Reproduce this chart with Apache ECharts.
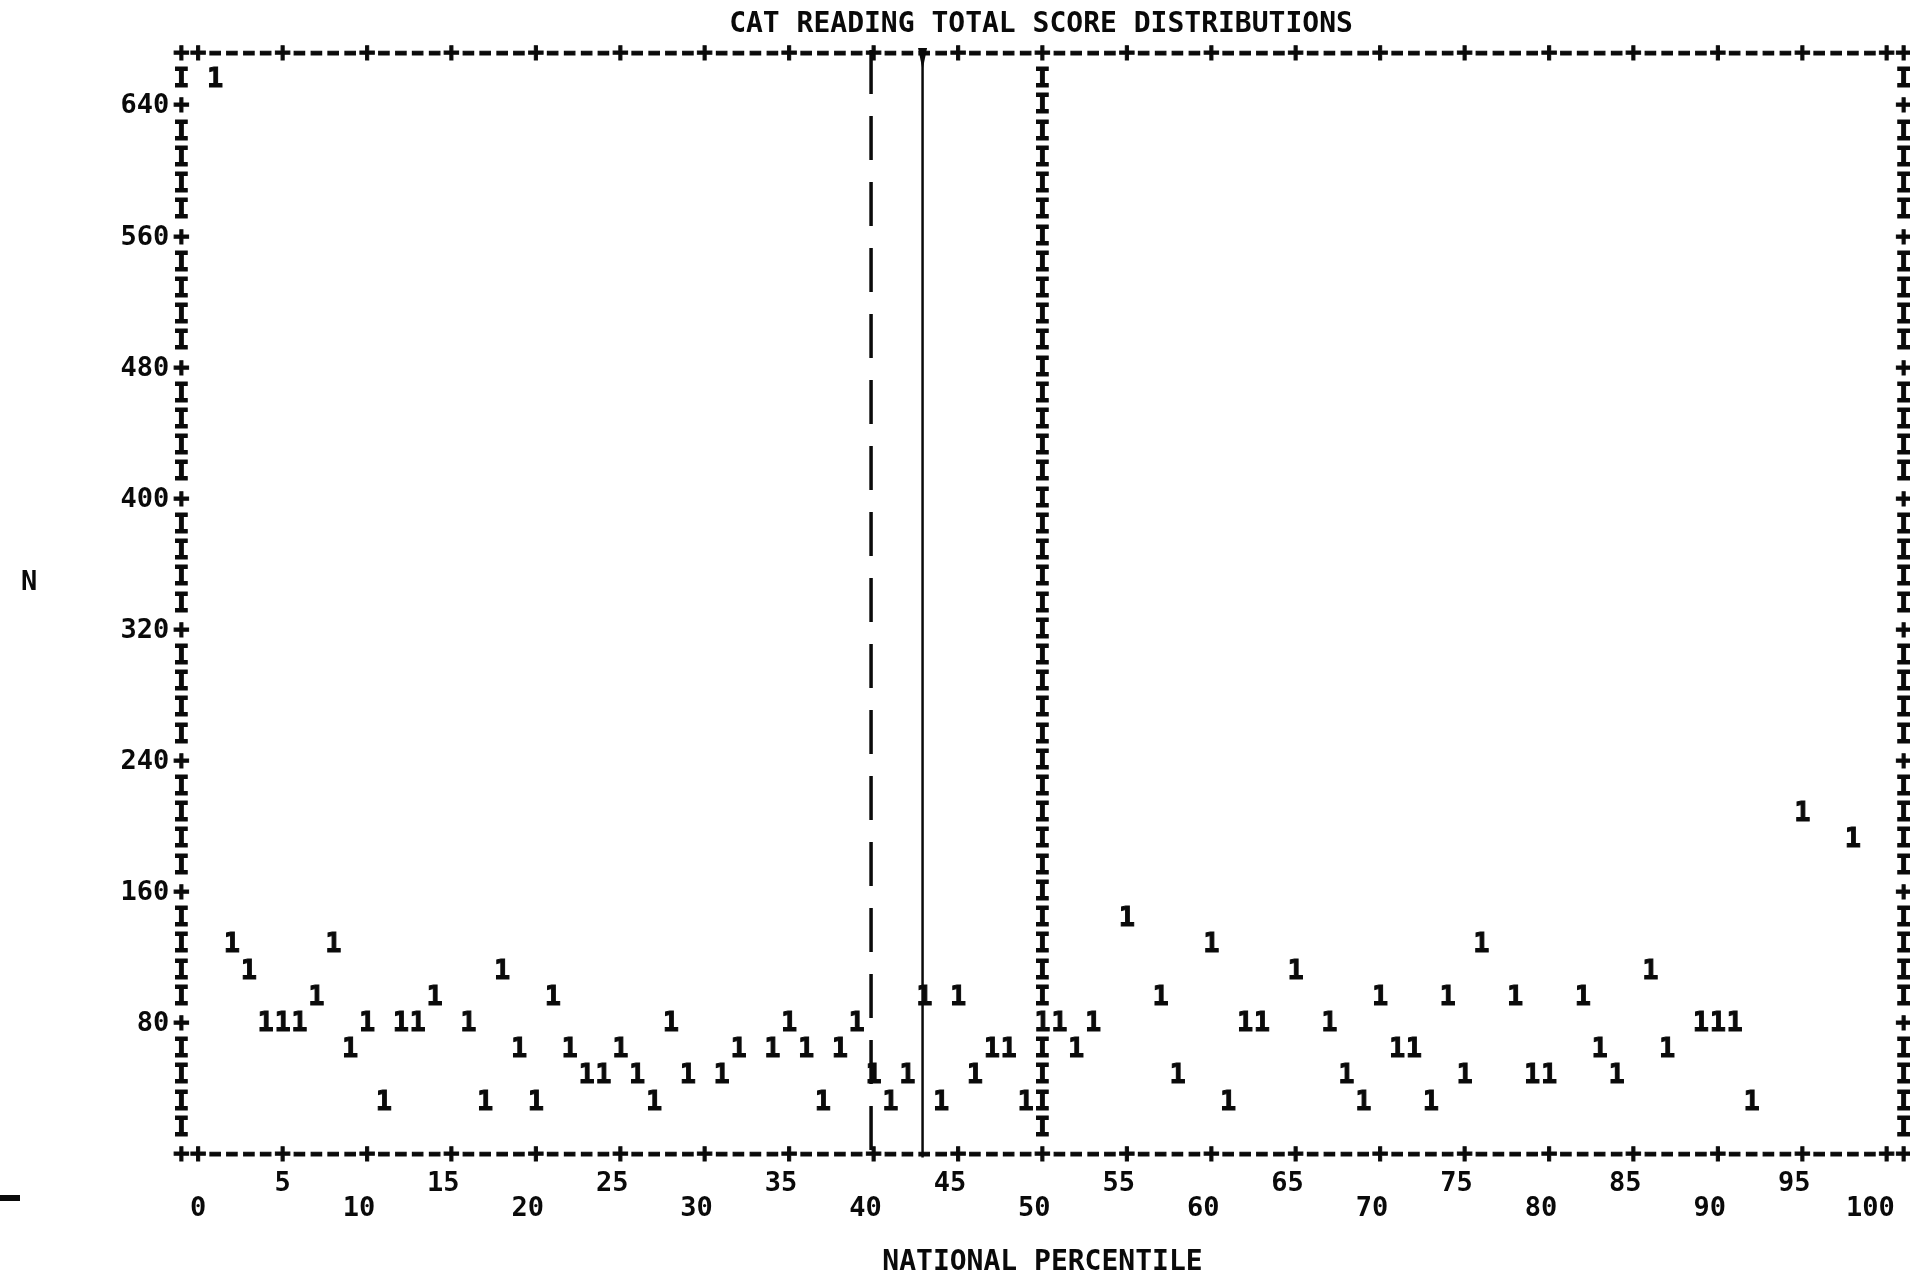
<!DOCTYPE html>
<html>
<head>
<meta charset="utf-8">
<title>CAT Reading Total Score Distributions</title>
<script src="https://cdn.jsdelivr.net/npm/echarts@6/dist/echarts.min.js"></script>
<style>
  html, body { margin: 0; padding: 0; background: #ffffff; }
  #chart { width: 1910px; height: 1275px; }
</style>
</head>
<body>
<div id="chart"></div>
<script>
// Printer plot: frequency N of each national percentile value.
// Every "1" marks one percentile at the row of its frequency (rows are 16 apart).
const percentiles = [
  1, 2, 3, 4, 5, 6, 7, 8, 9, 10, 11, 12, 13, 14, 16, 17, 18, 19, 20, 21,
  22, 23, 24, 25, 26, 27, 28, 29, 31, 32, 34, 35, 36, 37, 38, 39, 40, 41,
  42, 43, 44, 45, 46, 47, 48, 49, 50, 51, 52, 53, 55, 57, 58, 60, 61, 62,
  63, 65, 67, 68, 69, 70, 71, 72, 73, 74, 75, 76, 78, 79, 80, 82, 83, 84,
  86, 87, 89, 90, 91, 92, 95, 98
];
const frequencies = [
  656, 128, 112, 80, 80, 80, 96, 128, 64, 80, 32, 80, 80, 96, 80, 32, 112, 64, 32, 96,
  64, 48, 48, 64, 48, 32, 80, 48, 48, 64, 64, 80, 64, 32, 64, 80, 48, 32,
  48, 96, 32, 96, 48, 64, 64, 32, 80, 80, 64, 80, 144, 96, 48, 128, 32, 80,
  80, 112, 80, 48, 32, 96, 64, 64, 32, 96, 48, 128, 96, 48, 48, 96, 64, 48,
  112, 64, 80, 80, 80, 32, 208, 192
];

// Axis ticks and labels
const xTickValues = [0, 5, 10, 15, 20, 25, 30, 35, 40, 45, 50, 55, 60, 65, 70, 75, 80, 85, 90, 95, 100];
const yTickValues = [80, 160, 240, 320, 400, 480, 560, 640];

// Hand-drawn reference lines (percentile positions)
const dashedLineAt = 39.85;
const solidLineAt = 42.9;
// Printer-drawn marker column at the national median
const medianColumn = 50;

// Plot frame of the printout
const xMin = -1, xMax = 101;      // border columns
const yMin = 0, yMax = 672;       // border rows
const rowStep = 16;               // one printed line
const tickRowStep = 80;           // "+" marks on the side borders

const FONT = '"DejaVu Sans Mono", "Liberation Mono", monospace';
const INK = '#0a0a0a';
const GLYPH_DROP = 4;             // puts the glyph's visual centre on its row

// Build the frame glyphs: "+" corners and ticks, "-" along top/bottom, "I" along the sides.
const occupied = new Set(percentiles.map((p, i) => p + ':' + frequencies[i]));
const frameGlyphs = [];
for (let c = xMin; c <= xMax; c++) {
  const isTick = c === xMin || c === xMax || (c >= 0 && c <= 100 && c % 5 === 0);
  const ch = isTick ? '+' : '-';
  frameGlyphs.push({ x: c, y: yMin, ch });
  frameGlyphs.push({ x: c, y: yMax, ch });
}
for (let r = yMin + rowStep; r < yMax; r += rowStep) {
  const ch = r % tickRowStep === 0 ? '+' : 'I';
  frameGlyphs.push({ x: xMin, y: r, ch });
  frameGlyphs.push({ x: xMax, y: r, ch });
  if (!occupied.has(medianColumn + ':' + r)) {
    frameGlyphs.push({ x: medianColumn, y: r, ch: 'I' });
  }
}

function glyphRenderer(getChar, size) {
  return function (params, api) {
    const p = api.coord([api.value(0), api.value(1)]);
    const ch = getChar(params.dataIndex);
    return {
      type: 'text',
      x: p[0],
      y: p[1] + GLYPH_DROP,
      // printer dashes are a little wider than the font's hyphen
      scaleX: ch === '-' ? 1.25 : 1,
      style: {
        text: ch,
        fontFamily: FONT,
        fontWeight: 'bold',
        fontSize: size,
        fill: INK,
        stroke: INK,
        lineWidth: 1,
        align: 'center',
        verticalAlign: 'middle'
      }
    };
  };
}

const chart = echarts.init(document.getElementById('chart'), null, { renderer: 'canvas' });

const labelFont = { fontFamily: FONT, fontWeight: 'bold', fontSize: 27, color: INK };

chart.setOption({
  backgroundColor: '#ffffff',
  animation: false,
  title: {
    text: 'CAT READING TOTAL SCORE DISTRIBUTIONS',
    left: 1036,
    top: 6,
    textAlign: 'center',
    textStyle: { fontFamily: FONT, fontWeight: 'bold', fontSize: 28, color: INK }
  },
  grid: {
    left: 181.3, right: 6.4, top: 50, bottom: 124,
    containLabel: false,
    outerBoundsMode: 'none'
  },
  xAxis: {
    type: 'value',
    min: xMin,
    max: xMax,
    axisLine: { show: false },
    axisTick: { show: false },
    splitLine: { show: false },
    axisLabel: {
      customValues: xTickValues,
      margin: 20,
      lineHeight: 25,
      verticalAlign: 'top',
      ...labelFont,
      // tens drop to the second line; digits end on the tick column
      formatter: function (v) {
        const s = String(v);
        const txt = s + ' '.repeat(s.length - 1);
        return v % 10 === 0 ? '\n' + txt : txt;
      }
    },
    name: 'NATIONAL PERCENTILE',
    nameLocation: 'middle',
    nameGap: 98,
    nameTextStyle: { fontFamily: FONT, fontWeight: 'bold', fontSize: 28, color: INK }
  },
  yAxis: {
    type: 'value',
    min: yMin,
    max: yMax,
    axisLine: { show: false },
    axisTick: { show: false },
    splitLine: { show: false },
    axisLabel: {
      customValues: yTickValues,
      margin: 12,
      // a short top-aligned line box lowers the digits onto the "+" row
      verticalAlign: 'top',
      lineHeight: 2 * GLYPH_DROP,
      ...labelFont
    },
    name: 'N',
    nameLocation: 'middle',
    nameGap: 144,
    nameRotate: 0,
    nameTextStyle: {
      fontFamily: FONT, fontWeight: 'bold', fontSize: 27, color: INK,
      verticalAlign: 'bottom', lineHeight: 35
    }
  },
  series: [
    {
      name: 'frame',
      type: 'custom',
      clip: false,
      silent: true,
      data: frameGlyphs.map(g => [g.x, g.y]),
      renderItem: glyphRenderer(i => frameGlyphs[i].ch, 27),
      z: 2
    },
    {
      name: 'N',
      type: 'custom',
      clip: false,
      data: percentiles.map((p, i) => [p, frequencies[i]]),
      renderItem: glyphRenderer(() => '1', 27),
      z: 3
    },
    {
      name: 'dashed reference',
      type: 'line',
      clip: false,
      silent: true,
      showSymbol: false,
      data: [[dashedLineAt, yMax], [dashedLineAt, -4]],
      lineStyle: { color: INK, width: 3.5, type: [44, 22] },
      z: 4
    },
    {
      name: 'solid reference',
      type: 'line',
      clip: false,
      silent: true,
      showSymbol: true,
      data: [
        { value: [solidLineAt, yMax], symbol: 'triangle', symbolRotate: 180, symbolSize: [9, 22], symbolOffset: [0, 9] },
        { value: [solidLineAt, -4], symbol: 'none' }
      ],
      itemStyle: { color: INK },
      lineStyle: { color: INK, width: 2.5 },
      z: 4
    }
  ],
  graphic: [
    { type: 'rect', left: 0, top: 1195, shape: { width: 20, height: 6 }, style: { fill: INK }, silent: true }
  ]
});
</script>
</body>
</html>
